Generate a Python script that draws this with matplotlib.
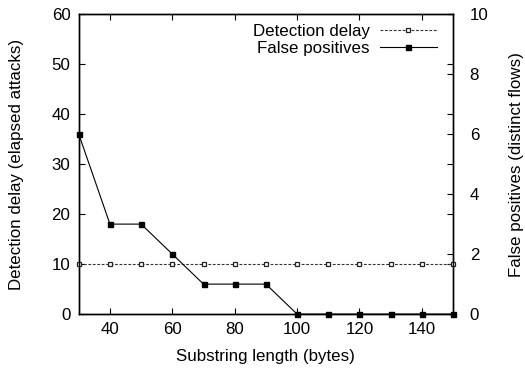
import matplotlib
matplotlib.use("Agg")
import matplotlib.pyplot as plt

plt.rcParams['font.family'] = ['Liberation Sans', 'DejaVu Sans']

substring_len = [30, 40, 50, 60, 70, 80, 90, 100, 110, 120, 130, 140, 150]
detection_delay = [10, 10, 10, 10, 10, 10, 10, 10, 10, 10, 10, 10, 10]
false_positives = [6, 3, 3, 2, 1, 1, 1, 0, 0, 0, 0, 0, 0]

fig = plt.figure(figsize=(5.25, 3.7), dpi=100)
ax = fig.add_axes([0.150, 0.151, 0.713, 0.811])
ax2 = ax.twinx()

l1, = ax.plot(substring_len, detection_delay, color='#333333', lw=0.8, ls=(0, (2.5, 1.5)),
              marker='s', ms=3.2, mfc='white', mec='#222222', mew=0.9, clip_on=False, zorder=3,
              label='Detection delay')
l2, = ax2.plot(substring_len, false_positives, color='black', lw=0.8, ls='-',
               marker='s', ms=3.6, mfc='black', mec='black', clip_on=False, zorder=3,
               label='False positives')

ax.set_xlim(30, 150)
ax.set_ylim(0, 60)
ax2.set_ylim(0, 10)
ax.set_xticks([40, 60, 80, 100, 120, 140])
ax.set_yticks([0, 10, 20, 30, 40, 50, 60])
ax2.set_yticks([0, 2, 4, 6, 8, 10])

fs = 12.2
ax.tick_params(axis='both', direction='in', length=4.5, width=0.8, labelsize=fs,
               top=True, right=True, pad=6)
ax2.tick_params(axis='y', direction='in', length=4.5, width=0.8, labelsize=fs, pad=12)

for sp in ax.spines.values():
    sp.set_linewidth(1.0)
for sp in ax2.spines.values():
    sp.set_linewidth(1.0)

ax.set_xlabel('Substring length (bytes)', fontsize=fs, labelpad=8)
ax.set_ylabel('Detection delay (elapsed attacks)', fontsize=fs, labelpad=20)
ax2.set_ylabel('False positives (distinct flows)', fontsize=fs, labelpad=15)

leg = ax2.legend(handles=[l1, l2], loc='upper right', frameon=False, markerfirst=False,
                 fontsize=fs, handlelength=3.4, handletextpad=0.6, labelspacing=0.1,
                 borderaxespad=0.2, bbox_to_anchor=(0.985, 1.0))

fig.savefig('out.png', dpi=100)
